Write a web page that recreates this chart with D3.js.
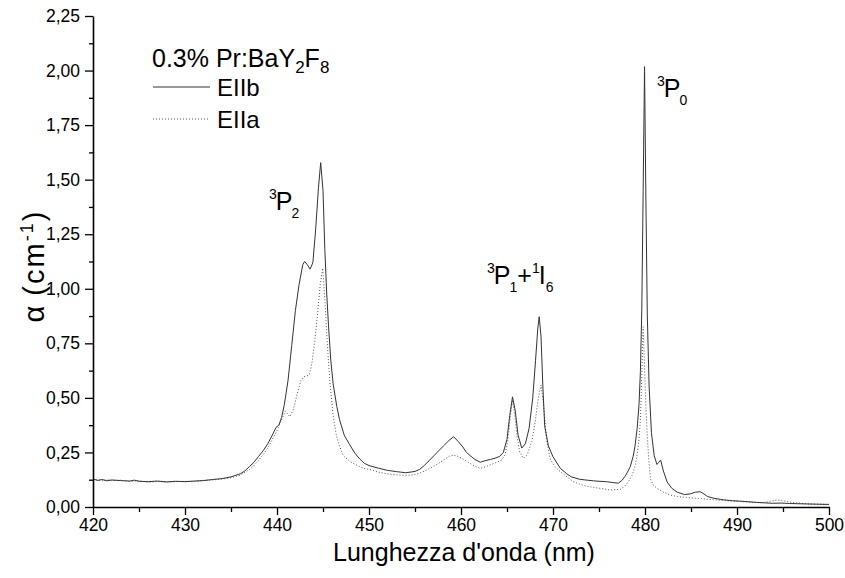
<!DOCTYPE html>
<html>
<head>
<meta charset="utf-8">
<script src="https://cdn.jsdelivr.net/npm/d3@7"></script>
<style>
  body { margin: 0; background: #fff; }
  svg { font-family: "Liberation Sans", Arial, sans-serif; }
</style>
</head>
<body>
<div id="chart"></div>
<script>
// E||b spectrum (solid line), wavelength in nm and absorption in cm-1
const wlB = [420.0,420.5,421.0,421.5,422.0,423.0,424.0,424.5,425.0,426.0,427.0,428.0,429.0,430.0,431.0,432.0,433.0,434.0,435.0,436.0,436.5,437.0,437.5,438.0,438.5,439.0,439.5,439.9,440.2,440.5,440.8,441.2,441.6,442.0,442.4,442.8,443.0,443.3,443.6,443.9,444.2,444.5,444.75,445.0,445.2,445.4,445.6,445.85,446.1,446.5,446.8,447.3,447.9,448.5,449.0,449.5,450.0,451.0,452.0,453.0,454.0,455.0,455.5,456.0,456.6,457.4,458.1,458.7,459.2,459.7,460.2,460.6,461.0,461.5,462.1,462.6,463.2,463.8,464.2,464.6,465.0,465.3,465.6,465.9,466.2,466.6,467.0,467.4,467.8,468.1,468.35,468.5,468.7,468.9,469.1,469.5,470.0,470.8,471.5,472.0,472.9,473.5,474.4,475.0,475.8,476.5,477.1,477.5,477.8,478.1,478.4,478.7,478.9,479.15,479.35,479.5,479.65,479.8,479.95,480.1,480.25,480.45,480.7,481.0,481.3,481.5,481.7,482.0,482.4,482.9,483.5,484.3,484.9,485.5,486.0,486.4,486.8,487.5,488.5,489.5,490.3,491.2,492.1,493.0,493.9,494.8,495.7,496.6,497.6,498.6,499.7,500.0];
const alphaB = [0.128,0.122,0.126,0.120,0.124,0.121,0.119,0.123,0.118,0.116,0.119,0.115,0.118,0.116,0.119,0.121,0.126,0.130,0.138,0.152,0.165,0.185,0.205,0.232,0.258,0.29,0.33,0.365,0.375,0.41,0.47,0.58,0.74,0.90,1.02,1.11,1.125,1.11,1.09,1.12,1.27,1.46,1.578,1.45,1.18,0.98,0.83,0.67,0.565,0.46,0.40,0.33,0.285,0.245,0.22,0.20,0.19,0.178,0.168,0.162,0.157,0.163,0.172,0.19,0.215,0.25,0.28,0.305,0.322,0.30,0.275,0.25,0.235,0.218,0.205,0.212,0.218,0.225,0.232,0.25,0.31,0.42,0.505,0.44,0.33,0.27,0.29,0.36,0.50,0.67,0.82,0.872,0.78,0.55,0.37,0.28,0.23,0.177,0.152,0.138,0.127,0.124,0.120,0.118,0.116,0.112,0.109,0.122,0.139,0.16,0.185,0.23,0.276,0.36,0.47,0.62,0.90,1.45,2.018,1.40,0.88,0.55,0.34,0.235,0.195,0.205,0.215,0.165,0.115,0.086,0.068,0.057,0.060,0.068,0.070,0.060,0.048,0.040,0.033,0.029,0.027,0.024,0.021,0.019,0.017,0.018,0.016,0.015,0.014,0.013,0.012,0.012];

// E||a spectrum (dotted line)
const wlA = [420.0,420.5,421.0,421.5,422.0,423.0,424.0,425.0,426.0,427.0,428.0,429.0,430.0,431.0,432.0,433.0,434.0,435.0,436.0,437.0,437.5,438.0,438.5,439.0,439.5,440.0,440.5,440.9,441.4,441.8,442.2,442.6,442.9,443.2,443.5,443.8,444.1,444.4,444.7,444.97,445.2,445.4,445.6,445.8,446.1,446.4,446.7,447.2,447.9,448.5,449.4,450.1,451.0,452.0,453.0,454.0,454.8,455.7,456.6,457.4,458.1,458.7,459.2,459.8,460.4,461.0,461.6,462.1,462.7,463.3,463.9,464.4,464.8,465.1,465.35,465.6,465.85,466.1,466.4,466.8,467.2,467.7,468.1,468.4,468.7,468.95,469.3,469.7,470.2,470.8,471.5,472.2,473.0,473.7,474.4,475.2,476.2,477.3,477.8,478.2,478.6,478.9,479.15,479.35,479.5,479.65,479.8,479.95,480.1,480.25,480.4,480.6,480.9,481.3,482.0,482.7,483.5,484.5,485.5,486.5,487.5,488.5,489.5,490.3,491.5,492.8,493.6,494.3,494.9,495.4,496.5,497.6,498.6,499.7,500.0];
const alphaA = [0.126,0.124,0.120,0.125,0.121,0.123,0.117,0.120,0.114,0.117,0.114,0.116,0.118,0.116,0.122,0.124,0.128,0.134,0.146,0.172,0.19,0.215,0.24,0.27,0.31,0.35,0.40,0.44,0.414,0.45,0.52,0.58,0.597,0.60,0.605,0.66,0.76,0.88,1.02,1.094,0.95,0.80,0.66,0.55,0.42,0.34,0.29,0.235,0.21,0.195,0.177,0.172,0.16,0.152,0.147,0.145,0.147,0.158,0.177,0.195,0.215,0.232,0.238,0.23,0.215,0.20,0.185,0.177,0.185,0.195,0.205,0.215,0.24,0.31,0.41,0.49,0.42,0.32,0.25,0.223,0.24,0.30,0.40,0.50,0.559,0.48,0.307,0.22,0.185,0.162,0.139,0.116,0.103,0.095,0.09,0.085,0.078,0.081,0.095,0.116,0.145,0.185,0.24,0.31,0.40,0.60,0.826,0.64,0.45,0.33,0.22,0.128,0.10,0.086,0.068,0.055,0.048,0.044,0.040,0.037,0.033,0.030,0.027,0.025,0.022,0.020,0.026,0.032,0.030,0.025,0.018,0.014,0.013,0.012,0.012];

// axis ticks
const xTicks = [420,430,440,450,460,470,480,490,500];
const xMinor = [425,435,445,455,465,475,485,495];
const yTicks = [0,0.25,0.5,0.75,1,1.25,1.5,1.75,2,2.25];
const yMinor = [0.125,0.375,0.625,0.875,1.125,1.375,1.625,1.875,2.125];

const width = 845;
const height = 578;
const margin = {left: 93, right: 16, top: 16, bottom: 71};

const svg = d3.select("#chart")
  .append("svg")
  .attr("width", width)
  .attr("height", height);

const x = d3.scaleLinear()
  .domain([420, 500])
  .range([margin.left, width - margin.right]);

const y = d3.scaleLinear()
  .domain([0, 2.25])
  .range([height - margin.bottom, margin.top]);

const commaFmt = d => d3.format(".2f")(d).replace(".", ",");

// curves
const line = d3.line()
  .x(d => x(d[0]))
  .y(d => y(d[1]));

svg.append("path")
  .datum(wlA.map((w, i) => [w, alphaA[i]]))
  .attr("d", line)
  .attr("fill", "none")
  .attr("stroke", "#555")
  .attr("stroke-width", 1)
  .attr("stroke-dasharray", "1,2");

svg.append("path")
  .datum(wlB.map((w, i) => [w, alphaB[i]]))
  .attr("d", line)
  .attr("fill", "none")
  .attr("stroke", "#333")
  .attr("stroke-width", 1);

// x axis
svg.append("g")
  .attr("transform", "translate(0," + y(0) + ")")
  .call(d3.axisBottom(x).tickValues(xTicks).tickSize(8).tickSizeOuter(0).tickPadding(4).tickFormat(d3.format("d")));

svg.append("g")
  .attr("transform", "translate(0," + y(0) + ")")
  .call(d3.axisBottom(x).tickValues(xMinor).tickSize(5).tickFormat(""))
  .call(g => g.select(".domain").remove());

// y axis
svg.append("g")
  .attr("transform", "translate(" + x(420) + ",0)")
  .call(d3.axisLeft(y).tickValues(yTicks).tickSize(8).tickSizeOuter(0).tickPadding(5).tickFormat(commaFmt));

svg.append("g")
  .attr("transform", "translate(" + x(420) + ",0)")
  .call(d3.axisLeft(y).tickValues(yMinor).tickSize(4).tickFormat(""))
  .call(g => g.select(".domain").remove());

svg.selectAll(".domain").attr("stroke", "#000").attr("stroke-width", 1.6);
svg.selectAll(".tick line").attr("stroke", "#000").attr("stroke-width", 1.3);
svg.selectAll(".tick text")
  .attr("fill", "#000")
  .style("font-size", "17.5px")
  .style("font-family", "'Liberation Sans', Arial, sans-serif");

// axis titles
svg.append("text")
  .attr("x", 464)
  .attr("y", 561)
  .attr("text-anchor", "middle")
  .style("font-size", "25px")
  .text("Lunghezza d'onda (nm)");

const yTitle = svg.append("text")
  .attr("transform", "translate(44,266) rotate(-90)")
  .attr("text-anchor", "middle")
  .style("font-size", "29px")
  .style("letter-spacing", "2px");
yTitle.append("tspan").text("α");
yTitle.append("tspan").attr("dx", 8).text("(cm");
yTitle.append("tspan").attr("dy", -11).style("font-size", "18px").text("-1");
yTitle.append("tspan").attr("dy", 11).text(")");

// legend
const legTitle = svg.append("text")
  .attr("x", 152)
  .attr("y", 67)
  .style("font-size", "25px");
legTitle.append("tspan").text("0.3% Pr:BaY");
legTitle.append("tspan").attr("dy", 6).style("font-size", "17px").text("2");
legTitle.append("tspan").attr("dy", -6).text("F");
legTitle.append("tspan").attr("dy", 6).style("font-size", "17px").text("8");

svg.append("line")
  .attr("x1", 153).attr("x2", 210).attr("y1", 87).attr("y2", 87)
  .attr("stroke", "#333").attr("stroke-width", 1);
svg.append("text").attr("x", 217).attr("y", 96).style("font-size", "24px").text("EIIb");

svg.append("line")
  .attr("x1", 153).attr("x2", 210).attr("y1", 119).attr("y2", 119)
  .attr("stroke", "#555").attr("stroke-width", 1).attr("stroke-dasharray", "1,2");
svg.append("text").attr("x", 217).attr("y", 128).style("font-size", "24px").text("EIIa");

// level labels
function levelLabel(px, py, parts) {
  const t = svg.append("text").attr("x", px).attr("y", py).style("font-size", "25px");
  let shift = 0;
  parts.forEach(p => {
    t.append("tspan")
      .attr("dy", p[1] - shift)
      .attr("dx", p[2] || 0)
      .style("font-size", p[1] === 0 ? "25px" : "14px")
      .text(p[0]);
    shift = p[1];
  });
}

levelLabel(269, 210, [["3", -11], ["P", 0, -1], ["2", 8, -1]]);
levelLabel(487, 284, [["3", -11], ["P", 0, -1], ["1", 8, -1], ["+", 0, 0], ["1", -11, 0], ["I", 0, -1], ["6", 8, 0]]);
levelLabel(657, 97, [["3", -11], ["P", 0, -1], ["0", 8, -1]]);
</script>
</body>
</html>
